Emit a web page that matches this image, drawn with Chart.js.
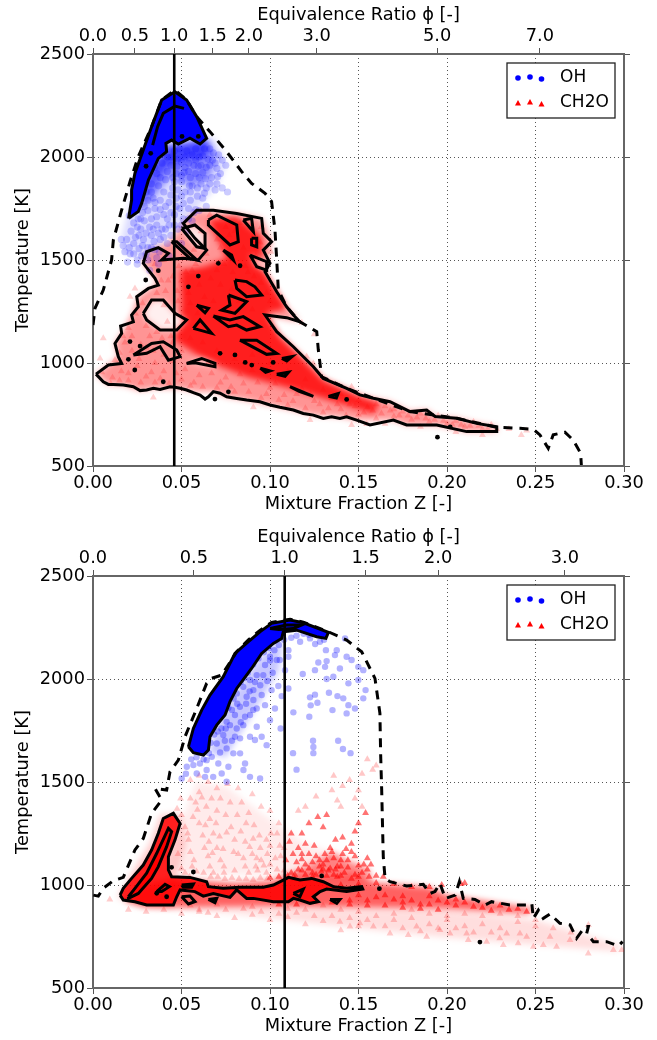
<!DOCTYPE html>
<html>
<head>
<meta charset="utf-8">
<script src="https://cdn.jsdelivr.net/npm/chart.js@4"></script>
<style>
  body { margin: 0; background: #fff; }
  canvas { position: absolute; left: 0; }
  #topChart { top: 0; }
  #bottomChart { top: 521px; }
</style>
</head>
<body>
<canvas id="topChart" width="657" height="521"></canvas>
<canvas id="bottomChart" width="657" height="519"></canvas>
<script>
const zTicks = [0, 0.05, 0.1, 0.15, 0.2, 0.25, 0.3];
const tempTicks = [500, 1000, 1500, 2000, 2500];

const topPhiLabels = ['0.0', '0.5', '1.0', '1.5', '2.0', '3.0', '5.0', '7.0'];
const topPhiZ = [0, 0.0237, 0.0459, 0.0676, 0.0881, 0.1264, 0.1944, 0.2525];
const bottomPhiLabels = ['0.0', '0.5', '1.0', '1.5', '2.0', '3.0'];
const bottomPhiZ = [0, 0.057, 0.1083, 0.154, 0.195, 0.2666];

// ---- top panel ----
const topStoichZ = 0.0459;

const topEnvelope = [[0,1184],[.0011,1265],[.0058,1354],[.0105,1500],[.0115,1597],[.0162,1743],[.0209,1880],[.0256,2002],[.0331,2147],[.0388,2277],[.0463,2325],[.0529,2277],[.0586,2196],[.0661,2123],[.0755,2026],[.084,1929],[.0896,1872],[.0972,1824],[.1009,1783],[.1028,1646],[.1038,1500],[.1047,1354],[.1094,1273],[.1169,1200],[.1264,1152],[.1273,1063],[.1292,933],[.1433,877],[.1584,829],[.1791,764],[.2055,732],[.2281,688],[.2412,683],[.2488,678],[.2525,651],[.2572,586],[.26,651],[.2666,664],[.2713,626],[.2755,562],[.2759,505]];

const topOhContour = [[.0201,1702],[.0218,1791],[.0218,1840],[.0237,1921],[.0284,2034],[.0331,2147],[.0388,2277],[.0463,2317],[.0529,2277],[.0586,2196],[.0642,2091],[.0605,2063],[.0548,2091],[.0482,2063],[.0444,2082],[.0412,2066],[.0416,2026],[.0369,1993],[.0313,1888],[.0275,1775],[.0256,1735]];
const topOhInner = [[.0337,2058],[.0365,2147],[.0397,2212],[.0463,2247],[.0514,2236]];

const topOhLight = [[.0237,1921],[.0209,1775],[.0162,1613],[.0181,1532],[.0313,1500],[.0397,1597],[.0586,1751],[.0699,1856],[.0755,1969],[.068,2099]];
const topOhMid = [[.0416,2050],[.0642,2082],[.0699,2002],[.0661,1904],[.0567,1856],[.0435,1904],[.0331,1791],[.0256,1726]];
const topOhDark = [[.0416,2060],[.0642,2085],[.0665,2030],[.06,1985],[.05,1985],[.042,1960],[.037,1900],[.031,1810],[.027,1760],[.0275,1840],[.033,1960]];

const topOhPoints = [[.0205,1715],[.023,1680],[.0215,1640],[.019,1600],[.017,1570],[.0205,1560],[.024,1610],[.027,1650],[.0255,1700],[.029,1690],[.031,1740],[.033,1700],[.0285,1600],[.026,1555],[.023,1530],[.0275,1520],[.031,1560],[.033,1620],[.036,1670],[.035,1750],[.038,1790],[.04,1720],[.041,1650],[.038,1600],[.035,1550],[.031,1500],[.0345,1590],[.0375,1540],[.042,1580],[.044,1620],[.046,1670],[.044,1730],[.043,1780],[.04,1830],[.037,1860],[.034,1800],[.03,1830],[.033,1870],[.036,1920],[.041,1890],[.045,1850],[.047,1800],[.049,1750],[.051,1700],[.048,1650],[.053,1640],[.056,1690],[.058,1745],[.055,1790],[.052,1830],[.05,1880],[.047,1920],[.044,1960],[.048,1990],[.052,1950],[.055,1900],[.059,1850],[.062,1800],[.064,1850],[.06,1900],[.057,1960],[.06,2000],[.064,1950],[.067,1900],[.07,1870],[.072,1920],[.069,1970],[.066,2040],[.071,2010],[.075,1960],[.063,2040],[.058,2040],[.053,2030],[.049,2040],[.046,2030],[.042,2000],[.039,1970],[.056,1860],[.061,1870],[.045,1900],[.05,1810],[.054,1750],[.047,1760],[.042,1700],[.039,1650],[.036,1710],[.032,1660],[.028,1730],[.052,2000],[.056,2010],[.061,1960],[.065,1990],[.068,2020],[.073,1850],[.064,1760],[.06,1740],[.076,1830],[.0195,1490],[.025,1480],[.032,1450],[.037,1480],[.043,1520],[.05,1580],
  [.04,2020],[.044,2000],[.05,1975],[.054,1970],[.058,1985],[.062,2005],[.066,1960],[.07,1945],[.073,1985],[.035,1950],[.038,1900],[.042,1930],[.046,1880],[.05,1910],[.054,1930],[.058,1920],[.062,1925],[.066,1870],[.069,1840],[.063,1825],[.059,1810],[.055,1830],[.051,1775],[.048,1840],[.044,1815],[.041,1760],[.038,1745],[.035,1780],[.033,1830],[.031,1790],[.029,1760],[.027,1700],[.025,1660],[.023,1580],[.021,1530],[.018,1540],[.016,1600],[.026,1620],[.03,1630],[.034,1650],[.037,1630],[.04,1610],[.043,1670],[.046,1720],[.05,1670],[.054,1700],[.057,1730],[.033,1560],[.036,1510],[.03,1530],[.028,1570],[.025,1500],[.0545,1860],[.0475,1955],[.0515,1925],[.0635,1895],[.0675,1985],[.0705,1905],[.0595,1955]];

const topCh2oEnvelope = [[.0017,946],[.0087,990],[.0143,1030],[.0124,1095],[.0162,1144],[.0218,1233],[.0256,1322],[.0369,1387],[.0284,1484],[.0303,1540],[.0435,1589],[.051,1678],[.0586,1742],[.0812,1726],[.0953,1702],[.1009,1589],[.0972,1443],[.1094,1273],[.1169,1200],[.0972,1233],[.1038,1152],[.1132,1079],[.1245,982],[.1301,925],[.1433,877],[.1508,845],[.1584,829],[.1678,812],[.1791,764],[.1885,772],[.1933,740],[.2055,732],[.2168,707],[.2281,691],[.2281,667],[.2111,667],[.1942,699],[.1772,699],[.1697,723],[.149,723],[.1395,739],[.1245,747],[.1132,772],[.1,796],[.0868,820],[.0755,836],[.068,861],[.0586,861],[.0492,877],[.0341,877],[.0266,866],[.0171,893],[.0087,896]];
const topCh2oCore = [[.0463,1110],[.05,1273],[.0492,1451],[.0624,1467],[.0755,1508],[.0652,1694],[.0812,1710],[.0953,1613],[.0962,1451],[.1094,1265],[.0981,1241],[.1056,1128],[.1169,1031],[.1301,917],[.1508,836],[.1621,804],[.1584,755],[.1395,804],[.1151,869],[.0868,933],[.0642,1010]];
const topWhiteHole = [[.0284,1241],[.0331,1306],[.0397,1306],[.0463,1241],[.0529,1209],[.0473,1160],[.0379,1160],[.0303,1209]];
const topWhiteHole2 = [[.0501,1653],[.0576,1670],[.0633,1629],[.0633,1556],[.0586,1564]];
const topWhiteHole3 = [[.0529,998],[.0614,1022],[.0689,998],[.0689,982],[.0576,1001]];
const topWhiteHole4 = [[.0887,1524],[.0981,1492],[.0981,1451],[.0925,1467]];

const topCh2oMain = [[.0017,946],[.0087,990],[.0162,998],[.0143,1031],[.0124,1095],[.0162,1144],[.0156,1179],[.0228,1200],[.0218,1233],[.0256,1273],[.0247,1322],[.0313,1362],[.0369,1378],[.035,1411],[.0284,1484],[.0303,1540],[.0369,1560],[.0426,1532],[.0388,1500],[.051,1508],[.0595,1500],[.0642,1548],[.0576,1605],[.051,1678],[.0586,1742],[.068,1742],[.0812,1726],[.0953,1702],[.0962,1629],[.1009,1589],[.0962,1548],[.1,1484],[.0972,1443],[.1038,1346],[.1094,1273],[.1132,1233],[.1169,1200],[.1094,1220],[.0972,1233],[.1038,1152],[.1132,1079],[.1245,982],[.1301,925],[.1433,877],[.1508,845],[.1584,829],[.1678,812],[.1791,764],[.1885,772],[.1933,740],[.2055,732],[.2168,707],[.2281,691],[.2281,667],[.2111,667],[.1942,699],[.1772,699],[.1697,723],[.1565,699],[.149,723],[.1433,739],[.1395,731],[.1348,739],[.1301,731],[.1245,747],[.1188,755],[.1132,772],[.1056,785],[.1,796],[.0943,812],[.0868,820],[.0812,828],[.0755,836],[.0718,853],[.068,861],[.0652,836],[.0633,825],[.0605,844],[.0567,856],[.0529,869],[.0492,877],[.0463,882],[.0435,885],[.0379,872],[.0341,877],[.0303,869],[.0266,866],[.0228,885],[.0171,893],[.0115,896],[.0087,896],[.0058,909]];
const topCh2oLoops = [
  [[.0652,1694],[.0699,1718],[.0812,1670],[.0821,1589],[.0774,1573],[.0652,1670]],
  [[.0849,1694],[.0896,1702],[.0906,1637]],
  [[.0896,1605],[.0925,1605],[.0925,1564],[.0896,1573]],
  [[.0736,1548],[.0783,1524],[.0793,1500]],
  [[.0887,1524],[.0981,1492],[.0981,1451],[.0925,1467]],
  [[.0802,1403],[.0868,1395],[.0915,1370],[.0953,1330],[.0868,1322],[.0812,1362]],
  [[.0765,1330],[.0868,1298],[.0802,1241],[.0727,1257],[.0774,1281]],
  [[.0586,1281],[.0652,1265],[.0633,1244]],
  [[.068,1228],[.0774,1209],[.0849,1225],[.0943,1176],[.0868,1160],[.0812,1184],[.0765,1176]],
  [[.083,1111],[.0925,1111],[.1038,1047],[.0981,1042]],
  [[.0567,1168],[.0605,1209],[.067,1144]],
  [[.0529,998],[.0614,1022],[.0689,998],[.0689,982],[.0576,1001]],
  [[.0284,1241],[.0331,1306],[.0397,1306],[.0463,1241],[.0529,1209],[.0473,1160],[.0379,1160],[.0303,1209]],
  [[.0444,1589],[.0473,1589],[.0586,1500],[.0548,1508]],
  [[.0501,1653],[.0576,1670],[.0633,1629],[.0633,1556],[.0586,1564]],
  [[.0228,1039],[.0331,1095],[.0397,1103],[.0473,1063],[.0492,1031],[.0426,1014],[.0379,1079],[.0303,1047]],
  [[.0945,975],[.1,962],[.0975,955]],
  [[.1038,945],[.1105,955],[.1085,935]],
  [[.1113,885],[.1245,838],[.1165,862]],
  [[.133,838],[.1385,852],[.1375,830]],
  [[.1067,1022],[.1125,1031],[.1095,1010]]
];
const topContourDots = [[.0209,1104],[.0266,1082],[.02,1018],[.0236,966],[.0298,1403],[.0539,1370],[.0689,825],[.0765,860],[.1433,823],[.0708,1484],[.0831,1472],[.0595,1422],[.0802,1039],[.086,1003],[.0897,990],[.1018,1003],[.0718,1047],[.0397,909],[.0369,1448],[.0326,2018],[.03,1955],[.0503,2100],[.0595,2100],[.1946,640],[.2018,690]];

const topCh2oPoints = [[.0058,1120],[.004,1022],[.0209,1322],[.0237,1362],[.0124,1014],[.0341,833],[.0906,785],[.1461,699],[.1546,704],[.1226,723],[.1461,885],[.1245,998],[.1207,1031],[.125,1140],[.118,1195],[.005,955],[.011,930],[.016,960],[.02,915],[.025,985],[.03,935],[.035,905],[.04,960],[.045,1010],[.05,920],[.055,890],[.06,940],[.065,1000],[.07,880],[.075,930],[.08,860],[.085,900],[.09,965],[.095,830],[.1,880],[.105,820],[.11,795],[.115,850],[.12,780],[.125,815],[.13,760],[.135,830],[.14,775],[.145,800],[.15,750],[.155,785],[.16,730],[.165,790],[.17,740],[.175,765],[.18,725],[.185,755],[.19,715],[.195,745],[.2,705],[.205,720],[.21,690],[.215,715],[.22,680],[.225,700],[.235,680],[.245,672],[.242,650],[.22,650],[.205,665],[.185,690],[.165,705],[.015,1050],[.018,1100],[.022,1130],[.026,1020],[.03,1075],[.02,1170],[.024,1240],[.028,1290],[.032,1130],[.036,1340],[.04,1280],[.042,1200],[.044,1130],[.048,1300],[.05,1400],[.054,1340],[.056,1450],[.06,1380],[.064,1530],[.07,1600],[.075,1660],[.08,1640],[.085,1560],[.09,1610],[.095,1660],[.092,1520],[.086,1470],[.079,1440],[.072,1380],[.068,1300],[.076,1270],[.09,1260],[.1,1300],[.058,1180],[.062,1100],[.07,1060],[.08,1020],[.09,1040],[.1,1000],[.11,960],[.12,920],[.13,870],[.14,850],[.15,820],[.16,800],[.17,775],[.055,1120],[.05,1060],[.045,1100],[.04,1040],[.035,1000],[.03,1180],[.036,1150],[.0425,1400],[.0485,1470],[.035,1480],[.04,1500],[.057,1550],[.061,1640],[.066,1720],[.073,1700],[.0875,1700],[.0945,1585],[.1005,1540],
  [.01,900],[.015,915],[.02,950],[.027,905],[.033,955],[.038,925],[.043,900],[.047,950],[.052,970],[.057,905],[.062,885],[.067,950],[.072,905],[.078,885],[.083,945],[.088,860],[.093,905],[.098,850],[.103,900],[.108,845],[.113,815],[.118,875],[.123,850],[.128,800],[.133,780],[.138,800],[.143,745],[.148,790],[.153,760],[.158,770],[.163,755],[.168,770],[.173,745],[.178,745],[.183,735],[.188,730],[.193,725],[.198,720],[.203,700],[.208,700],[.213,695],[.218,695],[.223,680],[.228,680],[.039,1120],[.034,1060],[.027,1090],[.022,1060],[.017,1130],[.041,1350],[.045,1420],[.0385,1400],[.0525,1440],[.0475,1350],[.055,1290],[.059,1240],[.063,1320],[.0665,1410],[.07,1450],[.074,1480],[.058,1480],[.0785,1360],[.0825,1300],[.0875,1440],[.091,1420],[.095,1390],[.098,1340],[.072,1560],[.077,1620],[.083,1680],[.089,1660],[.093,1590]];

// ---- bottom panel ----
const bottomStoichZ = 0.1083;

const bottomEnvelope = [[.0002,951],[.003,946],[.0058,984],[.0115,1021],[.0171,1037],[.0237,1170],[.0284,1226],[.0331,1348],[.0388,1412],[.035,1469],[.0416,1461],[.0435,1550],[.0482,1606],[.052,1720],[.0586,1857],[.0642,1979],[.067,2003],[.0727,2019],[.0812,2132],[.0878,2190],[.0943,2236],[.1009,2275],[.1113,2290],[.1188,2276],[.133,2229],[.1433,2189],[.1518,2132],[.1593,2003],[.1621,1833],[.1625,1639],[.1631,1461],[.164,1137],[.165,1032],[.1678,1016],[.1772,995],[.1866,1003],[.1904,959],[.1932,968],[.196,1008],[.1991,935],[.2046,951],[.207,1016],[.2092,935],[.2158,930],[.2215,903],[.2252,919],[.2355,903],[.245,903],[.2479,911],[.2488,838],[.2516,878],[.2544,838],[.2582,859],[.2638,814],[.2695,806],[.2732,741],[.278,798],[.2799,798],[.2789,765],[.2827,725],[.2902,725],[.2968,704],[.2992,725]];

const bottomOhContour = [[.0539,1671],[.0567,1760],[.0614,1849],[.0661,1922],[.0736,2011],[.0802,2124],[.0878,2181],[.0943,2229],[.1009,2270],[.1113,2286],[.1188,2273],[.133,2226],[.1316,2197],[.1264,2205],[.1151,2237],[.1075,2229],[.1066,2197],[.1019,2173],[.0953,2124],[.0896,2051],[.0812,1954],[.0774,1890],[.0746,1825],[.0699,1776],[.0661,1720],[.0652,1655],[.0624,1631],[.0567,1642]];
const bottomOhInner = [[.1,2245],[.1094,2262],[.1179,2262],[.1132,2245],[.105,2240]];
const bottomOhHalo = [[.0655,1640],[.07,1780],[.078,1900],[.09,2060],[.102,2170],[.107,2190],[.105,2040],[.095,1900],[.085,1760],[.075,1620]];

const bottomOhPoints = [[.1104,2140],[.1085,2043],[.1185,2024],[.1254,2043],[.1273,2080],[.1316,2140],[.1367,2116],[.132,2087],[.1311,2059],[.1395,2051],[.1358,2011],[.132,2000],[.1443,1979],[.1499,1995],[.154,1946],[.1333,1933],[.1381,1917],[.1226,1911],[.1254,1924],[.1268,1885],[.123,1872],[.1353,1849],[.1433,1833],[.1222,1817],[.1132,1838],[.1028,1857],[.1066,1917],[.1104,1954],[.1047,1966],[.1009,1946],[.0962,2019],[.1038,2092],[.1055,2092],[.1,2108],[.1104,2108],[.117,2181],[.1226,2197],[.1282,2181],[.1461,2092],[.1433,2108],[.1499,2059],[.1527,2043],[.1377,2140],[.1443,1873],[.148,1857],[.1527,1906],[.1414,1906],[.1424,2197],[.0812,1930],[.0849,1962],[.0887,1995],[.0925,2019],[.0972,2068],[.1,2090],[.0906,1946],[.0868,1914],[.083,1865],[.0802,1825],[.0774,1776],[.0736,1728],[.0699,1687],[.0755,1792],[.0812,1760],[.0849,1776],[.0887,1825],[.0925,1857],[.0972,1873],[.0953,1922],[.0906,1898],[.0859,1817],[.0802,1720],[.0755,1663],[.0718,1643],[.0671,1622],[.0642,1606],[.0604,1590],[.0567,1582],[.053,1574],[.0501,1517],[.0586,1541],[.0642,1558],[.0708,1590],[.0793,1639],[.0831,1639],[.0859,1590],[.085,1558],[.0765,1574],[.0727,1541],[.0679,1525],[.0633,1525],[.0755,1501],[.0887,1525],[.0944,1517],[.0887,1720],[.0953,1720],[.0925,1768],[.0831,1712],[.0981,1679],[.0915,1704],[.1,1800],[.106,1760],[.113,1640],[.1243,1700],[.1245,1670],[.1245,1640],[.1385,1700],[.1412,1660],[.1455,1640],[.115,1560],
  [.0835,1985],[.0855,2005],[.0875,2030],[.0905,2070],[.0935,2100],[.0965,2130],[.0995,2150],[.1025,2140],[.105,2165],[.108,2190],[.112,2200],[.115,2210],[.119,2220],[.122,2215],[.1255,2170],[.1305,2190],[.0795,1905],[.0815,1880],[.0785,1850],[.0765,1860],[.075,1760],[.0725,1760],[.0705,1745],[.0685,1730],[.0665,1690],[.0655,1640],[.0625,1610],[.0885,1940],[.0915,1985],[.0945,1970],[.0985,1990],[.1015,2030],[.0865,1880],[.0905,1850],[.0835,1790],[.0785,1700],[.0745,1700],[.0585,1620],[.0555,1610],[.0525,1540],[.0605,1650]];

const bottomCh2oOuter = [[.0153,951],[.0171,984],[.0218,1032],[.0284,1097],[.0331,1170],[.0369,1251],[.0397,1323],[.0454,1348],[.0492,1299],[.0463,1218],[.0426,1137],[.0426,1073],[.0444,1040],[.0548,1037],[.0642,1016],[.0652,992],[.0736,984],[.083,989],[.0962,989],[.1019,1000],[.1075,1024],[.1104,1037],[.1169,1024],[.1235,1032],[.1301,1016],[.1358,992],[.1433,984],[.1518,992],[.1524,980],[.1433,968],[.132,980],[.1283,968],[.1245,943],[.1273,919],[.1226,911],[.1169,927],[.1132,935],[.1104,919],[.1019,919],[.0906,935],[.0868,935],[.0812,976],[.0774,940],[.068,959],[.0623,946],[.0576,968],[.0492,976],[.0473,943],[.0454,903],[.0379,903],[.0303,903],[.0237,919],[.0171,927]];
const bottomCh2oInner = [[.02,943],[.0237,984],[.0303,1057],[.036,1154],[.0426,1275],[.0444,1259],[.0416,1186],[.0369,1089],[.0331,1032],[.0256,959],[.02,935]];
const bottomCh2oLoops = [
  [[.0501,943],[.0548,946],[.0576,919],[.0539,908]],
  [[.0501,1000],[.0567,1005],[.0557,989],[.051,989]],
  [[.036,968],[.0407,1003],[.0431,992],[.0388,968]],
  [[.0652,930],[.0699,935],[.0689,914]],
  [[.1339,930],[.1395,930],[.1377,911]],
  [[.1132,959],[.1188,980],[.1169,943]]
];
const bottomContourDots = [[.0444,1086],[.0567,1063],[.1292,1044],[.0416,943],[.1618,982],[.2186,723],[.036,960]];

const bottomBand = [[.045,1030],[.08,1010],[.1,1020],[.11,1050],[.15,1050],[.16,1010],[.19,990],[.2,950],[.25,885],[.245,860],[.2,885],[.15,890],[.1,895],[.05,890],[.03,895],[.018,925],[.03,1000]];
const bottomCluster = [[.108,1040],[.125,1110],[.135,1160],[.145,1110],[.155,1085],[.158,1030]];
const bottomTail = [[.13,880],[.2,880],[.25,830],[.3,700],[.295,680],[.25,710],[.2,745],[.15,790],[.11,830],[.08,860],[.05,880]];
const bottomPink = [[.045,1050],[.052,1350],[.058,1500],[.075,1480],[.095,1350],[.12,1200],[.15,1120],[.15,1050]];
const bottomLobeHalo = [[.014,940],[.022,1060],[.032,1200],[.038,1340],[.05,1350],[.052,1200],[.047,1050],[.045,890],[.025,895]];

const bottomCh2oPoints = [[.0095,930],[.02,880],[.03,870],[.04,880],[.05,860],[.06,870],[.07,850],[.08,840],[.09,855],[.1,830],[.11,845],[.12,810],[.13,825],[.14,780],[.15,800],[.1395,822],[.1452,798],[.1508,814],[.1584,798],[.1678,765],[.1781,757],[.1828,798],[.1885,749],[.196,781],[.2017,765],[.2111,765],[.212,733],[.2224,725],[.2298,741],[.2318,709],[.2337,765],[.2402,717],[.2412,765],[.245,749],[.2488,700],[.2544,709],[.2582,749],[.2619,700],[.2695,733],[.2798,668],[.2799,806],[.2838,733],[.294,684],[.2987,684],[.17,830],[.18,840],[.19,810],[.2,830],[.21,800],[.22,810],[.23,790],[.24,820],[.25,800],[.26,790],[.27,770],[.165,800],[.175,790],[.185,775],[.195,790],[.205,790],[.215,770],[.225,770],[.16,850],[.17,860],[.18,880],[.19,860],[.2,850],[.21,860],[.22,850],[.23,860],[.24,850],[.25,830],[.15,870],[.14,880],[.13,900],[.12,880],
  [.05,1340],[.052,1280],[.054,1220],[.055,1160],[.057,1120],[.056,1090],[.06,1300],[.062,1240],[.063,1180],[.065,1140],[.066,1090],[.058,1400],[.06,1450],[.064,1380],[.066,1320],[.068,1250],[.07,1180],[.072,1120],[.074,1090],[.07,1360],[.072,1420],[.075,1340],[.078,1280],[.08,1220],[.082,1150],[.076,1490],[.082,1470],[.088,1350],[.091,1290],[.094,1240],[.098,1220],[.1,1190],[.086,1210],[.09,1150],[.095,1120],[.1,1100],[.104,1075],[.108,1070],[.092,1090],[.086,1090],[.08,1070],[.074,1060],[.068,1060],[.088,1060],[.093,1070],[.098,1060],[.06,1530],[.065,1500],[.07,1470],[.055,1420],[.0495,1420],[.0475,1370],[.055,1510],[.067,1420],[.084,1400],[.09,1440],[.095,1380],[.1,1360],[.105,1300],[.104,1250],[.108,1180],[.106,1140],
  [.0535,1250],[.0565,1330],[.059,1365],[.0615,1425],[.0635,1290],[.0655,1210],[.0675,1155],[.0695,1300],[.0715,1235],[.0735,1175],[.0755,1255],[.0775,1400],[.0795,1160],[.0815,1340],[.0835,1260],[.085,1130],[.0865,1300],[.0885,1185],[.0905,1225],[.0925,1130],[.0945,1180],[.0965,1095],[.0985,1150],[.1005,1250],[.103,1130],[.1055,1190],[.048,1150],[.05,1080],[.052,1060],[.0545,1040],[.0585,1065],[.0625,1060],[.0665,1040],[.0705,1040],[.0745,1030],[.0785,1035],[.0825,1030],[.0865,1030],[.0905,1025],[.0945,1035],[.0985,1030],[.06,880],[.065,865],[.075,880],[.085,885],[.095,870],[.105,860],[.115,865],[.125,850],[.135,850],[.145,840],[.155,830],[.055,900],[.07,905],[.09,895],[.11,885]];

const bottomCh2oDense = [[.145,905],[.155,925],[.165,900],[.175,915],[.185,905],[.195,925],[.205,900],[.215,895],[.225,875],[.235,880],[.245,870],[.205,930],[.19,945],[.175,945],[.16,940],[.15,950],[.14,1000],[.15,1005],[.16,1010],[.17,1005],[.18,990],[.19,990],[.197,1000],[.21,1010],[.208,1005],[.17,930],[.18,925],[.19,905],[.2,915],[.21,915],[.22,890],[.23,900],[.24,885],[.165,950],[.155,900],[.175,890],[.185,885],[.195,880],[.125,920],[.135,915],[.145,925],[.115,905],[.105,905],
  [.112,1060],[.118,1070],[.124,1060],[.13,1075],[.136,1050],[.142,1060],[.148,1050],[.155,1075],[.12,1100],[.13,1100],[.14,1120],[.15,1095],[.148,1140],[.155,1130],[.143,1175],[.126,1140],[.115,1110],[.109,1120],[.137,1220],[.146,1200],[.148,1260],[.15,1300],[.154,1350],[.13,1280],[.12,1200],[.116,1180],[.125,1190],[.111,1210],[.118,1250],[.112,1250],[.122,1300],[.127,1330],[.132,1340],[.141,1230],[.135,1160],
  [.11,1045],[.114,1050],[.116,1075],[.12,1050],[.122,1080],[.126,1050],[.128,1090],[.132,1045],[.134,1080],[.138,1090],[.14,1045],[.144,1085],[.146,1030],[.15,1040],[.152,1060],[.156,1040],[.128,1120],[.132,1120],[.136,1130],[.14,1090],[.144,1120],[.124,1110],[.118,1125],[.133,1070],[.129,1065],[.137,1075],[.141,1150],[.134,1180],[.131,1150],[.122,1150],[.118,1150],[.113,1150],[.146,1160],[.153,1100],[.157,1100],[.16,1045],[.164,1040],[.138,1040],[.124,1040],[.114,1030],[.105,1040],[.1,1035]];

const bottomCh2oSparse = [[.12,1380],[.116,1360],[.14,1380],[.126,1430],[.135,1460],[.148,1420],[.152,1380],[.141,1480],[.145,1510],[.136,1530],[.152,1540],[.158,1560],[.16,1580],[.155,1610],[.15,1460],[.138,1410]];

// ---- helpers ----
function toXY(pairs) {
  return pairs.map(p => ({ x: p[0], y: p[1] }));
}
function closed(pairs) {
  return pairs.concat([pairs[0]]);
}
function cloud(pairs, style, color, radius, order) {
  return { data: toXY(pairs), showLine: false, pointStyle: style, pointRadius: radius, pointBorderWidth: 0, pointBackgroundColor: color, order };
}
function patch(pairs, color, order) {
  return { data: toXY(closed(pairs)), fill: 'shape', backgroundColor: color, borderWidth: 0, pointRadius: 0, order };
}
function softPatch(pairs, color, order) {
  return { ...patch(pairs, color, order), soft: true };
}
function contour(pairs, order) {
  return { data: toXY(closed(pairs)), borderColor: '#000', borderWidth: 3, pointRadius: 0, fill: false, order };
}
function openLine(pairs, order) {
  return { data: toXY(pairs), borderColor: '#000', borderWidth: 3, pointRadius: 0, fill: false, order };
}
function dashed(pairs, order) {
  return { data: toXY(pairs), borderColor: '#000', borderWidth: 3, borderDash: [9, 7], pointRadius: 0, fill: false, order };
}
function dots(pairs, order) {
  return { data: toXY(pairs), showLine: false, pointRadius: 2.4, pointBorderWidth: 0, pointBackgroundColor: '#000', order };
}
function vertical(z, order) {
  return { data: [{ x: z, y: 500 }, { x: z, y: 2500 }], borderColor: '#000', borderWidth: 2.6, pointRadius: 0, fill: false, order };
}

// the soft patches are the density underlay, they are drawn first and blurred
const softEdges = {
  id: 'softEdges',
  beforeDatasetsDraw(chart) {
    chart.ctx.filter = 'blur(3px)';
  },
  afterDatasetDraw(chart, args) {
    const metas = chart.getSortedVisibleDatasetMetas();
    const pos = metas.indexOf(args.meta);
    const next = metas[pos - 1];
    if (!next || !chart.data.datasets[next.index].soft) chart.ctx.filter = 'none';
  }
};

// matplotlib style legend with three markers per row
const legendBox = {
  id: 'legendBox',
  afterDatasetsDraw(chart) {
    const ctx = chart.ctx;
    const a = chart.chartArea;
    const x = a.left + 414, y = a.top + 9;
    ctx.save();
    ctx.filter = 'none';
    ctx.fillStyle = '#fff';
    ctx.strokeStyle = '#222';
    ctx.lineWidth = 1.3;
    ctx.fillRect(x, y, 108, 55);
    ctx.strokeRect(x, y, 108, 55);
    ctx.fillStyle = '#00f';
    [[11, 15], [23, 14], [34.5, 16]].forEach(m => {
      ctx.beginPath();
      ctx.arc(x + m[0], y + m[1], 2.8, 0, Math.PI * 2);
      ctx.fill();
    });
    ctx.fillStyle = '#f00';
    [[11, 40], [23, 39], [34.5, 41]].forEach(m => {
      ctx.beginPath();
      ctx.moveTo(x + m[0] - 3, y + m[1] + 2.5);
      ctx.lineTo(x + m[0] + 3, y + m[1] + 2.5);
      ctx.lineTo(x + m[0], y + m[1] - 3);
      ctx.fill();
    });
    ctx.fillStyle = '#000';
    ctx.font = '17px "DejaVu Sans"';
    ctx.textBaseline = 'middle';
    ctx.fillText('OH', x + 53, y + 15);
    ctx.fillText('CH2O', x + 53, y + 40);
    ctx.restore();
  }
};

function makePanel(id, datasets, phiZ, phiLabels, topSpace, bottomSpace, bottomTitlePad, topTitlePad) {
  const font = { family: '"DejaVu Sans"', size: 17.8 };
  const spine = { color: '#666', width: 2, dash: [1, 3] };
  const grid = { color: '#555', tickColor: '#555', tickLength: 6, tickBorderDash: [], lineWidth: 1 };
  new Chart(document.getElementById(id), {
    type: 'line',
    data: { datasets },
    plugins: [softEdges, legendBox],
    options: {
      responsive: false,
      animation: false,
      events: [],
      plugins: { legend: { display: false }, tooltip: { enabled: false } },
      scales: {
        x: {
          type: 'linear', position: 'bottom', min: 0, max: 0.3,
          grid, border: spine,
          afterBuildTicks: axis => { axis.ticks = zTicks.map(v => ({ value: v })); },
          ticks: { color: '#000', font, padding: 1, maxRotation: 0, autoSkip: false, callback: v => v.toFixed(2) },
          title: { display: true, text: 'Mixture Fraction Z [-]', color: '#000', font, padding: { top: 0, bottom: bottomTitlePad } },
          afterFit: axis => { axis.height = bottomSpace; }
        },
        phi: {
          type: 'linear', position: 'top', min: 0, max: 0.3,
          grid: { ...grid, drawOnChartArea: false }, border: spine,
          afterBuildTicks: axis => { axis.ticks = phiZ.map(v => ({ value: v })); },
          ticks: { color: '#000', font, padding: 1, maxRotation: 0, autoSkip: false, callback: v => phiLabels[phiZ.indexOf(v)] },
          title: { display: true, text: 'Equivalence Ratio ϕ [-]', color: '#000', font, padding: { top: topTitlePad, bottom: 0 } },
          afterFit: axis => { axis.height = topSpace; }
        },
        y: {
          type: 'linear', position: 'left', min: 500, max: 2500,
          grid, border: spine,
          afterBuildTicks: axis => { axis.ticks = tempTicks.map(v => ({ value: v })); },
          ticks: { color: '#000', font, padding: 2, callback: v => String(v) },
          title: { display: true, text: 'Temperature [K]', color: '#000', font, padding: { top: 13, bottom: 0 } },
          afterFit: axis => { axis.width = 93; }
        },
        yRight: {
          type: 'linear', position: 'right', min: 500, max: 2500,
          grid: { ...grid, drawOnChartArea: false }, border: spine,
          afterBuildTicks: axis => { axis.ticks = tempTicks.map(v => ({ value: v })); },
          ticks: { display: false },
          afterFit: axis => { axis.width = 33; }
        }
      }
    }
  });
}

const topDatasets = [
  vertical(topStoichZ, 1),
  dashed(topEnvelope, 2),
  contour(topOhContour, 3),
  openLine(topOhInner, 3),
  dots(topContourDots, 3)
];
topCh2oLoops.forEach(l => topDatasets.push(contour(l, 4)));
topDatasets.push(
  contour(topCh2oMain, 4),
  patch(topOhContour, '#0000ff', 5),
  cloud(topOhPoints, 'circle', 'rgba(0,0,255,0.2)', 3.6, 6),
  cloud(topCh2oPoints, 'triangle', 'rgba(255,0,0,0.18)', 4, 8),
  softPatch(topOhDark, 'rgba(0,0,255,0.55)', 19),
  softPatch(topOhMid, 'rgba(0,0,255,0.38)', 20),
  softPatch(topOhLight, 'rgba(0,0,255,0.14)', 21),
  softPatch(topWhiteHole, 'rgba(255,255,255,0.85)', 22),
  softPatch(topWhiteHole2, 'rgba(255,255,255,0.75)', 22),
  softPatch(topWhiteHole3, 'rgba(255,255,255,0.85)', 22),
  softPatch(topWhiteHole4, 'rgba(255,255,255,0.8)', 22),
  softPatch(topCh2oCore, 'rgba(255,0,0,0.8)', 23),
  softPatch(topCh2oEnvelope, 'rgba(255,0,0,0.42)', 24)
);

const bottomDatasets = [
  vertical(bottomStoichZ, 1),
  dashed(bottomEnvelope, 2),
  contour(bottomOhContour, 3),
  contour(bottomOhInner, 3),
  contour(bottomCh2oInner, 3),
  dots(bottomContourDots, 3)
];
bottomCh2oLoops.forEach(l => bottomDatasets.push(contour(l, 3)));
bottomDatasets.push(
  contour(bottomCh2oOuter, 3),
  patch(bottomOhContour, '#0000ff', 4),
  patch(bottomCh2oInner, '#ff0000', 4),
  patch(bottomCh2oOuter, 'rgba(255,0,0,0.85)', 5),
  cloud(bottomOhPoints, 'circle', 'rgba(0,0,255,0.3)', 3.2, 6),
  cloud(bottomCh2oDense, 'triangle', 'rgba(255,0,0,0.55)', 4, 7),
  cloud(bottomCh2oSparse, 'triangle', 'rgba(255,0,0,0.22)', 4, 8),
  cloud(bottomCh2oPoints, 'triangle', 'rgba(255,0,0,0.2)', 4, 8),
  softPatch(bottomOhHalo, 'rgba(0,0,255,0.22)', 19),
  softPatch(bottomCluster, 'rgba(255,0,0,0.45)', 20),
  softPatch(bottomBand, 'rgba(255,0,0,0.62)', 20),
  softPatch(bottomLobeHalo, 'rgba(255,0,0,0.2)', 21),
  softPatch(bottomTail, 'rgba(255,0,0,0.13)', 22),
  softPatch(bottomPink, 'rgba(255,0,0,0.08)', 22)
);

makePanel('topChart', topDatasets, topPhiZ, topPhiLabels, 54, 55, 6, 5);
makePanel('bottomChart', bottomDatasets, bottomPhiZ, bottomPhiLabels, 55, 52, 3, 6);
</script>
</body>
</html>
